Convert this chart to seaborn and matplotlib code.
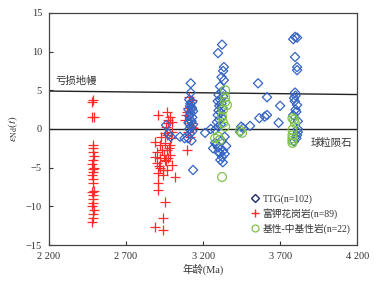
#!/usr/bin/env python3
"""Nd isotope evolution: epsilon Nd(t) vs age for TTG, K-rich granite and mafic rocks."""

import matplotlib

matplotlib.use("Agg")
import matplotlib.pyplot as plt
import pandas as pd
import seaborn as sns

# TTG (n=102)
ttg_age = [
    3120, 3120, 3110, 3130, 3115, 3125, 3105, 3135, 3120, 3110, 3130, 3115, 3125, 3105,
    3135, 3120, 3110, 3130, 3115, 3102, 3135, 3125, 3118, 3128,
    2960, 2975, 2990, 3050, 3080,
    3323, 3297, 3335, 3330, 3320, 3335, 3310, 3320, 3300, 3330, 3310, 3295, 3320, 3305,
    3325, 3300, 3315, 3295, 3320, 3305, 3290, 3315, 3300, 3213, 3278, 3250, 3278, 3265,
    3297, 3310, 3330, 3323, 3340, 3300, 3285, 3320, 3340, 3350, 3312, 3328,
    3447, 3440, 3460, 3505, 3565, 3615, 3557, 3615, 3700, 3690, 3600,
    3797, 3785, 3810, 3797, 3810, 3810, 3797, 3800, 3790, 3810, 3800, 3785, 3815, 3815,
    3815, 3810, 3805, 3790, 3795, 3805,
]
ttg_eps = [
    5.9, 4.7, 3.8, 3.5, 3.0, 2.8, 2.5, 2.3, 2.0, 1.7, 1.5, 1.2, 1.0, 0.8,
    0.6, 0.3, 0.0, -0.3, -0.6, -1.2, -5.3, -1.5, 3.3, 2.6,
    0.5, -0.6, -1.0, -1.0, -1.2,
    10.9, 9.8, 8.0, 7.5, 6.7, 6.3, 5.5, 4.8, 4.4, 4.2, 3.8, 3.6, 3.3, 3.0,
    2.7, 2.4, 2.1, 1.8, 1.5, 1.2, 0.9, 0.6, 0.3, -0.5, -0.1, 0.0, -1.8, -2.5,
    -2.4, -3.1, -2.8, -3.6, -3.2, -3.0, -2.0, -1.5, -1.0, -2.2, -4.0, -4.3,
    0.3, -0.4, 0.1, 0.4, 1.4, 1.8, 5.9, 4.1, 3.0, 0.8, 1.6,
    11.9, 11.6, 11.8, 9.3, 8.0, 7.6, 4.7, 4.3, 4.0, 3.1, 2.5, 1.8, 1.0, 0.0,
    -0.4, -0.8, -1.2, -1.6, 3.6, 2.2,
]

# K-rich granite (n=89)
granite_age = [
    2486, 2480, 2490, 2482, 2488, 2484, 2492, 2486, 2480, 2490, 2484, 2488, 2482, 2486,
    2490, 2480, 2486, 2484, 2488, 2482, 2490, 2486, 2484, 2480, 2488, 2486,
    2908, 2966, 2985, 2998, 2972, 2998, 2966, 2888, 2920, 2953, 2985, 2900, 2933, 2966,
    2985, 2888, 2920, 2953, 2998, 2900, 2920, 2940, 2966, 2908, 2940, 3018, 2908, 2908,
    2953, 2940, 2888, 2940, 2975, 2960, 2930, 2945, 2990, 2915, 2980, 2950, 2970, 2960,
    3128, 3096, 3083, 3135, 3096, 3110, 3100, 3120, 3090, 3105, 3130, 3115,
]
granite_eps = [
    3.7, 3.5, 1.6, 1.6, -2.1, -2.5, -3.5, -4.0, -4.5, -5.0, -5.2, -5.5, -6.0, -7.0,
    -8.0, -8.2, -8.5, -9.0, -9.5, -10.0, -10.5, -11.0, -11.5, -12.0, -6.5, -3.0,
    1.8, 2.2, 1.6, 0.9, 0.8, -0.4, -0.8, -1.7, -2.1, -1.8, -2.1, -3.0, -2.7, -2.7,
    -3.4, -3.6, -3.7, -4.0, -4.7, -4.4, -5.0, -5.3, -5.3, -5.7, -5.9, -6.2, -7.0, -7.9,
    -9.4, -11.5, -12.7, -13.0, 1.2, 0.2, -1.0, -3.3, -1.2, -4.8, -2.4, -0.5, -3.8, -4.2,
    3.7, 2.2, 1.2, 0.1, -2.7, 4.1, -0.4, 0.8, 1.8, 2.7, 0.3, -1.0,
]

# basic - intermediate rocks (n=22)
mafic_age = [
    3343, 3343, 3343, 3355, 3330, 3323, 3330, 3343, 3278, 3297, 3310, 3323,
    3453, 3440, 3780, 3790, 3795, 3780, 3780, 3780, 3780, 3780,
]
mafic_eps = [
    5.0, 4.1, 3.5, 3.1, 2.5, 1.6, 0.8, 0.3, -1.2, -1.0, -1.4, -6.2,
    -0.5, -0.2, 1.4, 1.2, 0.8, -0.1, -0.8, -1.2, -1.5, -1.8,
]

# reference lines: depleted mantle and CHUR
dm_age = [2200, 4200]
dm_eps = [4.9, 4.45]
chur_age = [2200, 4200]
chur_eps = [0, 0]

group_labels = ["TTG(n=102)", "富钾花岗岩(n=89)", "基性-中基性岩(n=22)"]
x_ticks = [2200, 2700, 3200, 3700, 4200]
x_tick_labels = ["2 200", "2 700", "3 200", "3 700", "4 200"]
y_ticks = [-15, -10, -5, 0, 5, 10, 15]

FONTS = ["Liberation Serif", "Noto Sans CJK SC", "DejaVu Sans"]
BLUE = "#3565c4"
RED = "#ff2a2a"
GREEN = "#80c24e"


def build_frame() -> pd.DataFrame:
    frames = [
        pd.DataFrame({"age": ttg_age, "eps": ttg_eps, "group": group_labels[0]}),
        pd.DataFrame({"age": granite_age, "eps": granite_eps, "group": group_labels[1]}),
        pd.DataFrame({"age": mafic_age, "eps": mafic_eps, "group": group_labels[2]}),
    ]
    return pd.concat(frames, ignore_index=True)


def main() -> None:
    sns.set_theme(style="ticks")
    plt.rcParams["font.family"] = FONTS
    plt.rcParams["mathtext.fontset"] = "stix"

    frame = build_frame()

    fig = plt.figure(figsize=(3.74, 2.86), dpi=100)
    ax = fig.add_axes([0.131, 0.143, 0.824, 0.812])

    sns.lineplot(x=dm_age, y=dm_eps, color="#222222", linewidth=1.0, ax=ax, zorder=1)
    sns.lineplot(x=chur_age, y=chur_eps, color="#222222", linewidth=1.0, ax=ax, zorder=1)

    sns.scatterplot(data=frame[frame["group"] == group_labels[0]], x="age", y="eps",
                    marker="D", s=22, facecolors="none", edgecolor=BLUE,
                    linewidth=0.9, ax=ax, zorder=3, legend=False)
    sns.scatterplot(data=frame[frame["group"] == group_labels[1]], x="age", y="eps",
                    marker="+", s=55, color=RED, linewidth=0.9, ax=ax, zorder=2,
                    legend=False)
    sns.scatterplot(data=frame[frame["group"] == group_labels[2]], x="age", y="eps",
                    marker="o", s=40, facecolors="none", edgecolor=GREEN,
                    linewidth=0.9, ax=ax, zorder=4, legend=False)

    handles = [
        plt.Line2D([], [], marker="D", linestyle="none", markersize=3.8,
                   markerfacecolor="none", markeredgecolor="#1f2a6e", markeredgewidth=1.0),
        plt.Line2D([], [], marker="+", linestyle="none", markersize=6,
                   color=RED, markeredgewidth=1.0),
        plt.Line2D([], [], marker="o", linestyle="none", markersize=5,
                   markerfacecolor="none", markeredgecolor=GREEN, markeredgewidth=0.9),
    ]
    leg = ax.legend(handles, group_labels, loc="lower right", frameon=False,
                    fontsize=7, handletextpad=0.3, borderaxespad=0.3,
                    labelspacing=0.45, handlelength=1.0,
                    bbox_to_anchor=(1.0, 0.02))
    for text in leg.get_texts():
        text.set_color("#333333")

    ax.text(2240, 5.6, "亏损地幔", fontsize=7.5, color="#333333",
            family=["Noto Sans CJK SC"], va="bottom")
    ax.text(4170, -1.1, "球粒陨石", fontsize=7.5, color="#333333",
            family=["Noto Sans CJK SC"], va="top", ha="right")

    ax.set_xlim(2200, 4200)
    ax.set_ylim(-15, 15)
    ax.set_xticks(x_ticks)
    ax.set_xticklabels(x_tick_labels)
    ax.set_yticks(y_ticks)
    ax.tick_params(direction="in", length=3, width=0.8, labelsize=7.5,
                   colors="#333333", top=False, right=False, pad=5)
    for spine in ax.spines.values():
        spine.set_visible(True)
        spine.set_color("#444444")
        spine.set_linewidth(0.9)

    ax.set_xlabel("年龄(Ma)", fontsize=7.5, color="#333333", labelpad=2)
    ax.set_ylabel(r"$\varepsilon_{\mathrm{Nd}}(t)$", fontsize=8, color="#333333", labelpad=4)

    fig.savefig("out.png", dpi=100)
    plt.close(fig)


if __name__ == "__main__":
    main()
